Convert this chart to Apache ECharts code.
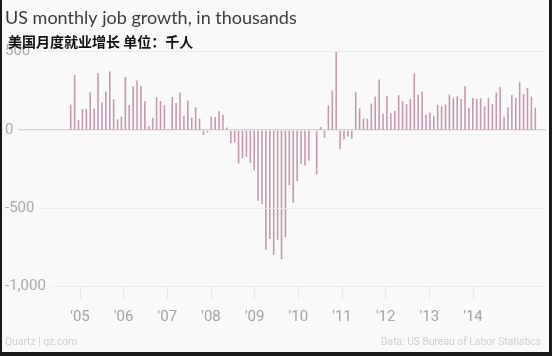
<!DOCTYPE html>
<html><head><meta charset="utf-8">
<script src="https://cdn.jsdelivr.net/npm/echarts@6/dist/echarts.min.js"></script>
<style>html,body{margin:0;padding:0;background:#fff}#c{width:560px;height:356px}</style>
</head><body><div id="c"></div>
<script>
// Monthly change in US nonfarm payrolls, thousands (Sep 2004 – Aug 2014)
const monthNames = ['Jan','Feb','Mar','Apr','May','Jun','Jul','Aug','Sep','Oct','Nov','Dec'];
const jobs2004 = [161, 350, 64, 132];               // Sep–Dec
const jobs2005 = [134, 239, 134, 363, 175, 245, 373, 196, 67, 84, 337, 159];
const jobs2006 = [277, 315, 280, 182, 23, 77, 207, 184, 157, 2, 210, 171];
const jobs2007 = [238, 88, 188, 78, 144, 71, -33, -16, 85, 82, 118, 97];
const jobs2008 = [15, -86, -80, -214, -182, -172, -210, -259, -452, -474, -765, -697];
const jobs2009 = [-798, -701, -826, -684, -354, -467, -327, -216, -227, -198, -6, -283];
const jobs2010 = [18, -50, 156, 251, 516, -122, -61, -42, -57, 241, 137, 71];
const jobs2011 = [70, 168, 212, 322, 102, 217, 106, 122, 221, 183, 164, 196];
const jobs2012 = [360, 226, 243, 96, 110, 88, 160, 150, 161, 225, 203, 214];
const jobs2013 = [197, 280, 141, 203, 199, 201, 149, 202, 164, 237, 274, 84];
const jobs2014 = [144, 222, 203, 304, 229, 267, 212, 142];   // Jan–Aug

const yearLabels = ["'05","'06","'07","'08","'09","'10","'11","'12","'13","'14"];
const yTicks = [-1000, -500, 0, 500];

const series = [
  [2004, 8, jobs2004], [2005, 0, jobs2005], [2006, 0, jobs2006], [2007, 0, jobs2007],
  [2008, 0, jobs2008], [2009, 0, jobs2009], [2010, 0, jobs2010], [2011, 0, jobs2011],
  [2012, 0, jobs2012], [2013, 0, jobs2013], [2014, 0, jobs2014]
];
const categories = [], values = [];
series.forEach(([yr, start, arr]) => arr.forEach((v, i) => {
  categories.push(monthNames[start + i] + ' ' + yr);
  values.push(v);
}));

const BG = '#f9f9f9';
const gTop = 51.5, gH = 235;
const chart = echarts.init(document.getElementById('c'), null, {renderer: 'canvas'});
chart.setOption({
  backgroundColor: BG,
  animation: false,
  title: [
    {text: 'US monthly job growth, in thousands', left: 5, top: 9, z: 10, padding: 0,
     textStyle: {fontFamily: 'Lato', fontSize: 18, fontWeight: 'normal', color: '#3c3c3c'}},
    {text: '美国月度就业增长 单位：千人', left: 8, top: 35, z: 10, padding: 0,
     textStyle: {fontFamily: 'Noto Sans CJK SC', fontSize: 14, fontWeight: 'bold', color: '#111'}},
    {text: 'Quartz | qz.com', left: 5, top: 337, z: 10, padding: 0,
     textStyle: {fontFamily: 'Roboto', fontSize: 10.3, fontWeight: 'normal', color: '#cfcfcf'}},
    {text: 'Data: US Bureau of Labor Statistics', right: 19, top: 337, z: 10, padding: 0,
     textStyle: {fontFamily: 'Roboto', fontSize: 10.3, fontWeight: 'normal', color: '#cfcfcf'}}
  ],
  grid: [
    {left: 68.75, top: gTop, width: 468.5, height: gH},
    {left: 3, top: gTop, width: 542, height: gH},
    {left: 80, top: gTop, width: 393, height: gH}
  ],
  xAxis: [
    {type: 'category', gridIndex: 0, data: categories, show: false},
    {type: 'value', gridIndex: 1, min: 0, max: 1, z: 0,
     axisLine: {show: true, onZero: true, lineStyle: {color: '#c6c6c6', width: 1.5}},
     axisTick: {show: false}, axisLabel: {show: false}, splitLine: {show: false}},
    {type: 'category', gridIndex: 2, data: yearLabels, boundaryGap: false, position: 'bottom',
     axisLine: {show: false, onZero: false},
     axisTick: {show: true, length: 13, lineStyle: {color: '#e8e8e8'}},
     axisLabel: {color: '#a3a3a3', fontSize: 15, fontFamily: 'Roboto', margin: 23},
     splitLine: {show: false}}
  ],
  yAxis: [
    {type: 'value', gridIndex: 0, min: -1000, max: 500, show: false},
    {type: 'value', gridIndex: 1, min: yTicks[0], max: yTicks[yTicks.length - 1], interval: 500, z: 3,
     axisLine: {show: false}, axisTick: {show: false},
     splitLine: {lineStyle: {color: '#ebebeb', width: 1}},
     axisLabel: {inside: true, margin: 0, color: '#aaaaaa', fontSize: 15, fontFamily: 'Roboto',
       backgroundColor: BG, padding: [1, 5, 1, 2],
       formatter: v => v.toLocaleString('en-US')}},
    {type: 'value', gridIndex: 2, min: -1000, max: 500, show: false}
  ],
  series: [{
    type: 'bar', xAxisIndex: 0, yAxisIndex: 0, data: values, barWidth: 1.6,
    itemStyle: {color: '#c49ab0'}
  }],
  graphic: [
    {type: 'rect', shape: {x: 0, y: 0, width: 2, height: 356}, style: {fill: '#1a1a1a'}, z: 100},
    {type: 'rect', shape: {x: 549, y: 0, width: 3, height: 356}, style: {fill: '#1a1a1a'}, z: 100},
    {type: 'rect', shape: {x: 552, y: 0, width: 8, height: 356}, style: {fill: '#ffffff'}, z: 100},
    {type: 'rect', shape: {x: 0, y: 352, width: 552, height: 4}, style: {fill: '#1a1a1a'}, z: 100}
  ]
});
</script></body></html>
